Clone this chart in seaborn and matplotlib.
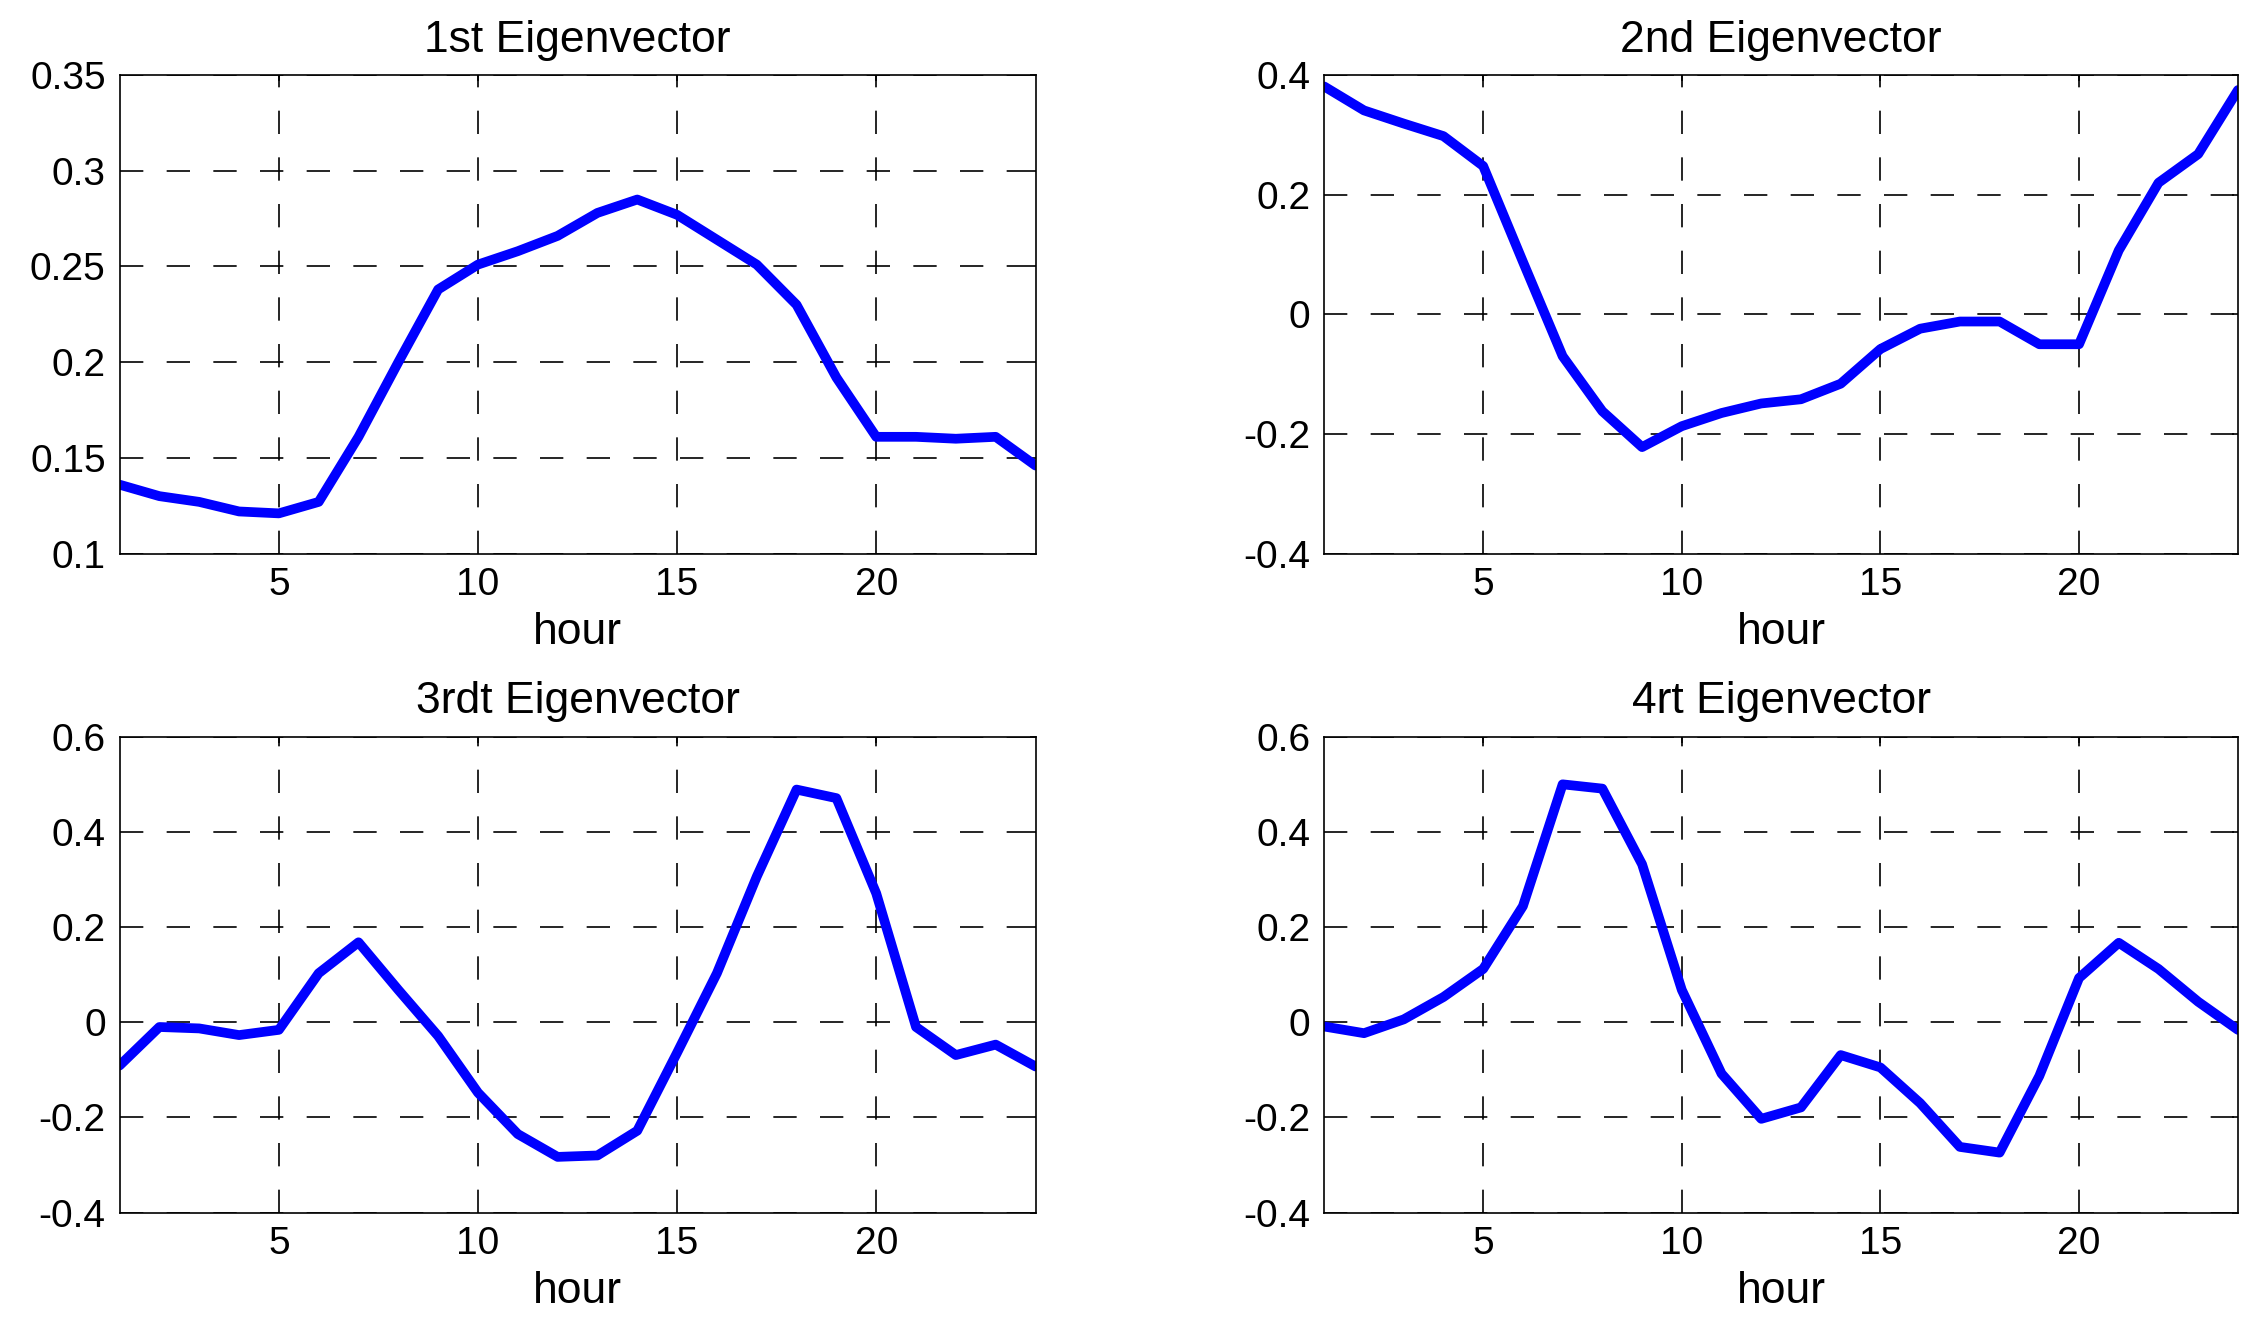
import matplotlib
matplotlib.use("Agg")
import matplotlib.pyplot as plt
import numpy as np
import pandas as pd
import seaborn as sns

hours = list(range(1, 25))

ev1 = [0.136, 0.130, 0.127, 0.122, 0.121, 0.127, 0.161, 0.200, 0.238, 0.251,
       0.258, 0.266, 0.278, 0.285, 0.277, 0.264, 0.251, 0.230, 0.192, 0.161,
       0.161, 0.160, 0.161, 0.146]
ev2 = [0.381, 0.341, 0.319, 0.298, 0.248, 0.088, -0.070, -0.162, -0.222, -0.187,
       -0.165, -0.149, -0.142, -0.116, -0.058, -0.024, -0.012, -0.012, -0.050, -0.050,
       0.107, 0.220, 0.268, 0.375]
ev3 = [-0.091, -0.010, -0.013, -0.027, -0.016, 0.103, 0.168, 0.068, -0.029, -0.148,
       -0.235, -0.283, -0.280, -0.228, -0.064, 0.103, 0.306, 0.489, 0.471, 0.271,
       -0.010, -0.069, -0.047, -0.093]
ev4 = [-0.009, -0.023, 0.006, 0.053, 0.112, 0.244, 0.500, 0.491, 0.332, 0.068,
       -0.108, -0.203, -0.179, -0.069, -0.095, -0.170, -0.262, -0.274, -0.113, 0.093,
       0.167, 0.112, 0.043, -0.016]

titles = ["1st Eigenvector", "2nd Eigenvector", "3rdt Eigenvector", "4rt Eigenvector"]
ylims = [(0.1, 0.35), (-0.4, 0.4), (-0.4, 0.6), (-0.4, 0.6)]
yticks = [
    [0.1, 0.15, 0.2, 0.25, 0.3, 0.35],
    [-0.4, -0.2, 0, 0.2, 0.4],
    [-0.4, -0.2, 0, 0.2, 0.4, 0.6],
    [-0.4, -0.2, 0, 0.2, 0.4, 0.6],
]
yticklabels = [
    ["0.1", "0.15", "0.2", "0.25", "0.3", "0.35"],
    ["-0.4", "-0.2", "0", "0.2", "0.4"],
    ["-0.4", "-0.2", "0", "0.2", "0.4", "0.6"],
    ["-0.4", "-0.2", "0", "0.2", "0.4", "0.6"],
]
xticks = [5, 10, 15, 20]

sns.set_style("white")
plt.rcParams["font.family"] = ["Liberation Sans", "DejaVu Sans"]
plt.rcParams["text.color"] = "black"
plt.rcParams["axes.labelcolor"] = "black"

fig = plt.figure(figsize=(22.56, 13.18), dpi=100)
positions = [
    [0.053, 0.580, 0.406, 0.363],
    [0.587, 0.580, 0.405, 0.363],
    [0.053, 0.080, 0.406, 0.361],
    [0.587, 0.080, 0.405, 0.361],
]

for i, values in enumerate([ev1, ev2, ev3, ev4]):
    ax = fig.add_axes(positions[i])
    df = pd.DataFrame({"hour": hours, "value": values})
    sns.lineplot(data=df, x="hour", y="value", ax=ax, color="#0000ff",
                 linewidth=7, estimator=None, sort=False)
    ax.set_xlim(1, 24)
    ax.set_ylim(*ylims[i])
    ax.set_xticks(xticks)
    ax.set_xticklabels([str(t) for t in xticks])
    ax.set_yticks(yticks[i])
    ax.set_yticklabels(yticklabels[i])
    ax.grid(True, color="black", linestyle=(0, (14, 14)), linewidth=1.2)
    ax.tick_params(direction="in", length=4, width=1.2, labelsize=28,
                   colors="black", labelcolor="black", pad=10, top=True, right=True)
    for s in ax.spines.values():
        s.set_color("black")
        s.set_linewidth(1.2)
    ax.set_xlabel("hour", fontsize=32, labelpad=6, color="black")
    ax.set_ylabel("")
    ax.set_title(titles[i], fontsize=32, pad=17, color="black")

fig.savefig("out.png", dpi=100, facecolor="white")
